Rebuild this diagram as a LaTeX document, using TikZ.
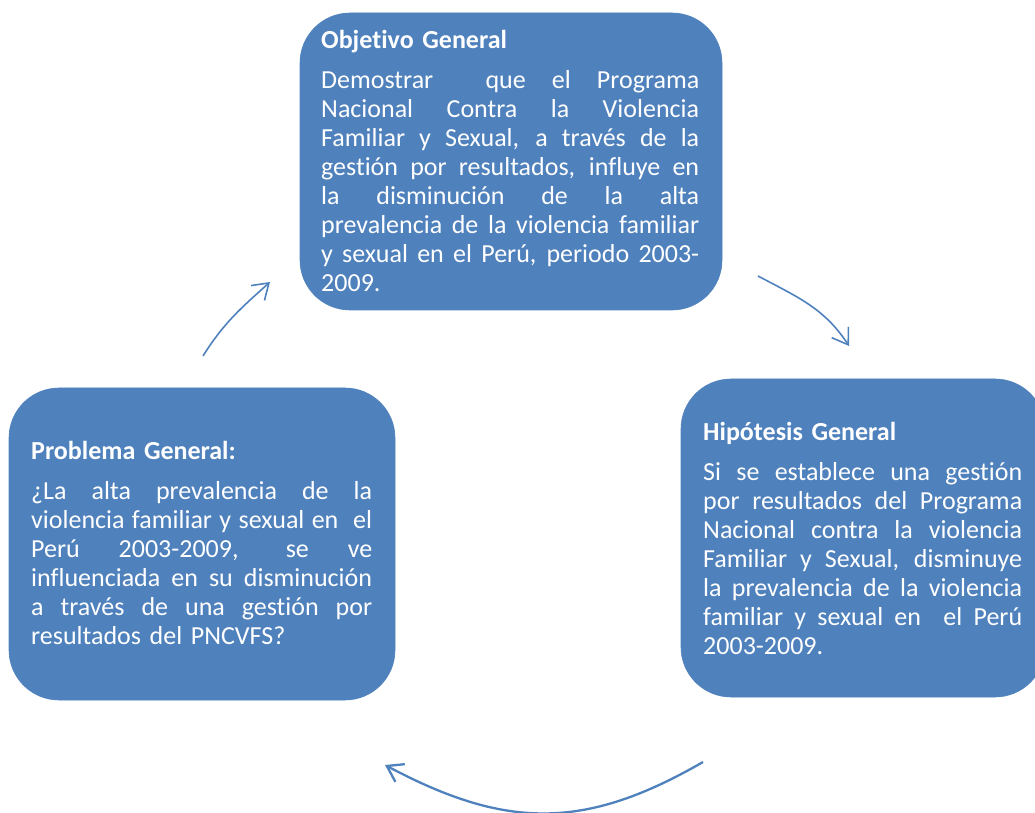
\documentclass[tikz,border=0pt]{standalone}
\usepackage{fontspec}
\setmainfont{Carlito}[Ligatures={NoCommon}]
\usetikzlibrary{arrows.meta}
\setlength\parindent{0pt}
\definecolor{officeblue}{HTML}{4F81BD}
\newcommand{\jl}[2]{\makebox[#1][s]{\spaceskip=\fontdimen2\font plus 1fil\relax #2}}
\newcommand{\sps}{\hskip\fontdimen2\font plus 1fil\relax}
\begin{document}
\begin{tikzpicture}[x=1pt,y=1pt,
  bluebox/.style={rectangle,rounded corners=50pt,fill=officeblue,draw=officeblue,line width=0.6pt,inner sep=0pt},
  boxtext/.style={anchor=north west,inner sep=0pt,align=left,text=white,font=\fontsize{26}{29}\selectfont},
  cyclearrow/.style={draw=officeblue,line width=1.6pt,-{Straight Barb[length=15pt,width=20pt]}}
]
\useasboundingbox (0,0) rectangle (1035,812);
% boxes
\node[bluebox,minimum width=422pt,minimum height=297pt] (boxObj) at (511,650.5) {};
\node[bluebox,minimum width=364pt,minimum height=318pt] (boxHip) at (863,274) {};
\node[bluebox,minimum width=386pt,minimum height=312pt] (boxProb) at (202,268) {};
% texts
\node[boxtext,text width=378pt] (txtObj) at (321,784) {\rule{0pt}{20pt}\textbf{Objetivo General}\\[11pt]
\jl{378pt}{Demostrar \sps que el Programa}\\
\jl{378pt}{Nacional Contra la Violencia}\\
\jl{378pt}{Familiar y Sexual, a través de la}\\
\jl{378pt}{gestión por resultados, influye en}\\
\jl{378pt}{la disminución de la alta}\\
\jl{378pt}{prevalencia de la violencia familiar}\\
\jl{378pt}{y sexual en el Perú, periodo 2003-}\\
2009.};
\node[boxtext,text width=319pt] (txtHip) at (703,392) {\rule{0pt}{20pt}\textbf{Hipótesis General}\\[11pt]
\jl{319pt}{Si se establece una gestión}\\
\jl{319pt}{por resultados del Programa}\\
\jl{319pt}{Nacional contra la violencia}\\
\jl{319pt}{Familiar y Sexual, disminuye}\\
\jl{319pt}{la prevalencia de la violencia}\\
\jl{319pt}{familiar y sexual en \sps el Perú}\\
2003-2009.};
\node[boxtext,text width=341pt] (txtProb) at (31,373) {\rule{0pt}{20pt}\textbf{Problema General:}\\[11pt]
\jl{341pt}{¿La alta prevalencia de la}\\
\jl{341pt}{violencia familiar y sexual en \sps el}\\
\jl{341pt}{Perú 2003-2009, se ve}\\
\jl{341pt}{influenciada en su disminución}\\
\jl{341pt}{a través de una gestión por}\\
resultados del PNCVFS?};
% arrow end points
\coordinate (a1s) at (203,456);
\coordinate (a1e) at (270,530);
\coordinate (a2s) at (758,536);
\coordinate (a2e) at (849,466);
\coordinate (a3s) at (703,50);
\coordinate (a3e) at (385,47);
\draw[cyclearrow] (a1s) to[out=58,in=222] (a1e);
\draw[cyclearrow] (a2s) to[out=-28,in=123] (a2e);
\draw[cyclearrow,line width=2.3pt] (a3s) to[out=-150,in=-28,looseness=1.1] (a3e);
\end{tikzpicture}
\end{document}
